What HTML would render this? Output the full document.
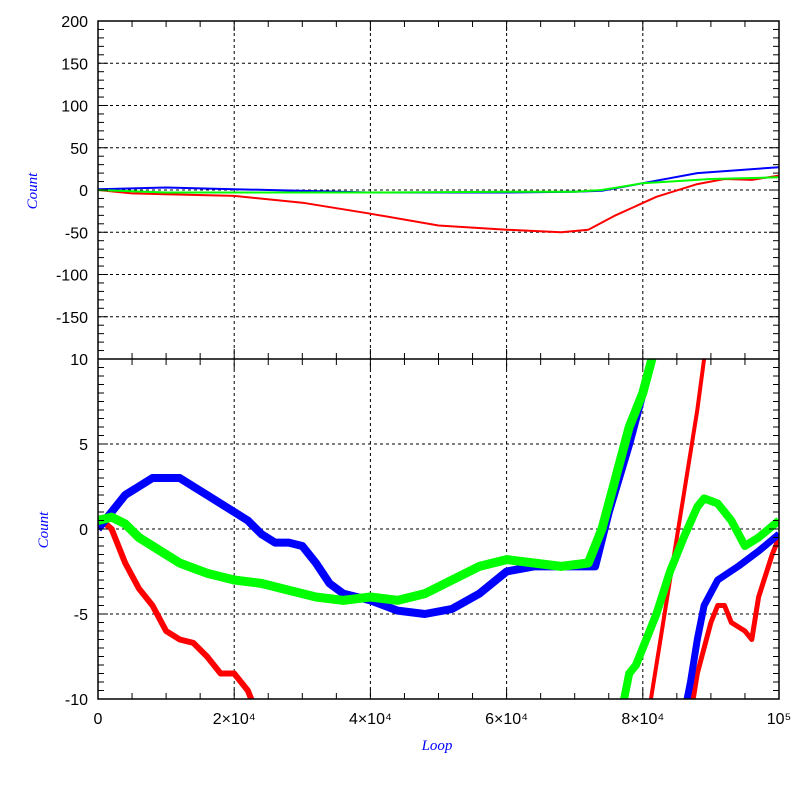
<!DOCTYPE html>
<html><head><meta charset="utf-8"><style>
body{margin:0;background:#fff}
svg{display:block;font-family:"Liberation Sans",sans-serif}
</style></head><body>
<svg id="c" width="797" height="797"></svg>
<script>
const xTicks=[0,20000,40000,60000,80000,100000];
const xLabels=["0","2×10⁴","4×10⁴","6×10⁴","8×10⁴","10⁵"];
const topTicks=[200,150,100,50,0,-50,-100,-150];
const botTicks=[10,5,0,-5,-10];
// top panel series [loop(k), count]
const topBlue=[[0,1],[10,3],[20,1],[40,-3],[60,-3],[70,-2],[74,-1],[80,8],[88,20],[100,27]];
const topGreen=[[0,0],[10,-3],[40,-3],[60,-2],[70,-2],[74,0],[80,8],[90,13],[100,15]];
const topRed=[[0,0],[5,-4],[10,-5],[20,-7],[30,-15],[40,-28],[50,-42],[60,-47],[68,-50],[72,-47],[76,-30],[82,-8],[88,7],[92,13],[96,12],[100,17]];
// bottom panel (zoomed) series
const botBlue1=[[0,0],[2,1],[4,2],[6,2.5],[8,3],[10,3],[12,3],[14,2.5],[16,2],[18,1.5],[20,1],[22,0.5],[24,-0.3],[26,-0.8],[28,-0.8],[30,-1],[32,-2],[34,-3.2],[36,-3.8],[40,-4.2],[44,-4.8],[48,-5],[52,-4.7],[56,-3.8],[60,-2.5],[64,-2.2],[68,-2.2],[73,-2.2],[75,1],[78,5],[80,8],[82,11]];
const botBlue2=[[86,-11],[87,-9],[88,-6.5],[89,-4.5],[91,-3],[94,-2.2],[97,-1.3],[100,-0.3]];
const botGreen1=[[0,0.5],[2,0.7],[4,0.3],[6,-0.5],[8,-1],[10,-1.5],[12,-2],[14,-2.3],[16,-2.6],[20,-3],[24,-3.2],[28,-3.6],[32,-4],[36,-4.2],[40,-4],[44,-4.2],[48,-3.8],[52,-3],[56,-2.2],[60,-1.8],[64,-2],[68,-2.2],[72,-2],[74,0],[76,3],[78,6],[80,8],[82,11]];
const botGreen2=[[77,-10.5],[78,-8.5],[79,-8],[80,-7],[82,-5],[84,-2.5],[86,-0.5],[88,1.3],[89,1.8],[91,1.5],[93,0.5],[95,-1],[97,-0.5],[100,0.5]];
const botRed1=[[0,0.7],[2,0],[3,-1],[4,-2],[6,-3.5],[8,-4.5],[10,-6],[12,-6.5],[14,-6.7],[16,-7.5],[18,-8.5],[20,-8.5],[22,-9.5],[23,-10.5]];
const botRed2=[[81,-10.5],[82,-8],[84,-3],[86,2],[88,7],[89,10],[90,11]];
const botRed3=[[87,-11],[88,-8.5],[89,-7],[90,-5.5],[91,-4.5],[92,-4.5],[93,-5.5],[95,-6],[96,-6.5],[97,-4],[99,-1.5],[100,-0.5]];

const L=98,R=779,T1=21,B1=359,T2=359,B2=699;
const sx=v=>L+(v/100000)*(R-L);
const sy1=v=>T1+(200-v)/400*(B1-T1);
const sy2=v=>T2+(10-v)/20*(B2-T2);
const svg=document.getElementById('c');
const NS="http://www.w3.org/2000/svg";
function mk(t,a,p){const e=document.createElementNS(NS,t);for(const k in a)e.setAttribute(k,a[k]);(p||svg).appendChild(e);return e;}

const defs=mk('defs',{});
const c1=mk('clipPath',{id:'cp1'},defs);mk('rect',{x:L,y:T1,width:R-L,height:B1-T1},c1);
const c2=mk('clipPath',{id:'cp2'},defs);mk('rect',{x:L,y:T2,width:R-L,height:B2-T2},c2);

for(const t of xTicks.slice(1,-1)){
  let g=mk('line',{x1:sx(t),x2:sx(t),y1:T1,y2:B2,stroke:'#000','stroke-dasharray':'3,3'});
  
}
for(const t of topTicks.slice(1)){
  let g=mk('line',{x1:L,x2:R,y1:sy1(t),y2:sy1(t),stroke:'#000','stroke-dasharray':'3,3'});
  
}
for(const t of botTicks.slice(1,-1)){
  let g=mk('line',{x1:L,x2:R,y1:sy2(t),y2:sy2(t),stroke:'#000','stroke-dasharray':'3,3'});
  
}

function series(data,sy,color,w,clip,name){
  const d=data.map((p,i)=>(i?'L':'M')+sx(p[0]*1000).toFixed(1)+','+sy(p[1]).toFixed(1)).join('');
  const e=mk('path',{d:d,fill:'none',stroke:color,'stroke-width':w,'stroke-linejoin':'round','clip-path':'url(#'+clip+')'});
  
  
}
series(topRed,sy1,'#f00',2,'cp1','top-red-line');
series(topBlue,sy1,'#00f',2,'cp1','top-blue-line');
series(topGreen,sy1,'#0f0',2,'cp1','top-green-line');
series(botRed1,sy2,'#f00',6,'cp2','bottom-red-line-1');
series(botRed2,sy2,'#f00',4,'cp2','bottom-red-line-2');
series(botRed3,sy2,'#f00',5,'cp2','bottom-red-line-3');
series(botBlue1,sy2,'#00f',8,'cp2','bottom-blue-line-1');
series(botBlue2,sy2,'#00f',7,'cp2','bottom-blue-line-2');
series(botGreen1,sy2,'#0f0',9,'cp2','bottom-green-line-1');
series(botGreen2,sy2,'#0f0',8,'cp2','bottom-green-line-2');

let f=mk('rect',{x:L,y:T1,width:R-L,height:B2-T1,fill:'none',stroke:'#000','stroke-width':1.5});

let dv=mk('line',{x1:L,x2:R,y1:B1,y2:B1,stroke:'#000','stroke-width':1.5});


for(let v=0;v<=100000;v+=5000){
  const big=v%20000===0, len=big?10:6;
  mk('line',{x1:sx(v),x2:sx(v),y1:B2,y2:B2-len,stroke:'#000'});
  mk('line',{x1:sx(v),x2:sx(v),y1:B1,y2:B1-len,stroke:'#000'});
  mk('line',{x1:sx(v),x2:sx(v),y1:T1,y2:T1+len,stroke:'#000'});
  mk('line',{x1:sx(v),x2:sx(v),y1:T2,y2:T2+len,stroke:'#000'});
}
for(let v=-200;v<=200;v+=10){
  const len=v%50===0?10:6;
  mk('line',{x1:L,x2:L+len,y1:sy1(v),y2:sy1(v),stroke:'#000'});
  mk('line',{x1:R,x2:R-len,y1:sy1(v),y2:sy1(v),stroke:'#000'});
}
for(let v=-10;v<=10;v+=0.5){
  const len=Math.abs(v%5)<1e-9?10:6;
  mk('line',{x1:L,x2:L+len,y1:sy2(v),y2:sy2(v),stroke:'#000'});
  mk('line',{x1:R,x2:R-len,y1:sy2(v),y2:sy2(v),stroke:'#000'});
}

function txt(x,y,s,anchor,name,extra){
  const e=mk('text',Object.assign({x:x,y:y,'text-anchor':anchor,'font-size':16,fill:'#000'},extra||{}));
  e.textContent=s;return e;
}
topTicks.forEach(t=>txt(88,sy1(t)+6,String(t),'end','top-y-tick-label'));
botTicks.forEach(t=>txt(88,sy2(t)+6,String(t),'end','bottom-y-tick-label'));
xTicks.forEach((t,i)=>txt(sx(t),724,xLabels[i],'middle','x-tick-label'));
const tf={fill:'#00f','font-family':'"Liberation Serif",serif','font-style':'italic','font-size':15};
txt(437,750,'Loop','middle','x-axis-title',tf);
let b=txt(37,191,'Count','middle','top-y-axis-title',tf);b.setAttribute('transform','rotate(-90 37 191)');
let c=txt(48,530,'Count','middle','bottom-y-axis-title',tf);c.setAttribute('transform','rotate(-90 48 530)');
</script>
</body></html>
